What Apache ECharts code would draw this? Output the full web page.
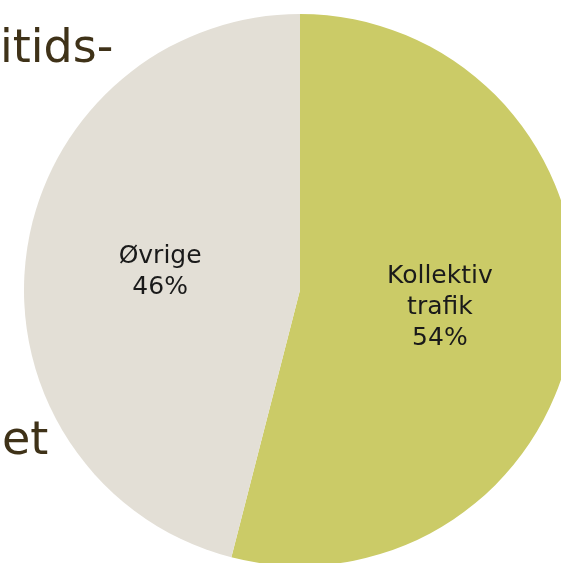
<!DOCTYPE html>
<html>
<head>
<meta charset="utf-8">
<script src="https://cdn.jsdelivr.net/npm/echarts@6/dist/echarts.min.js"></script>
<style>
  html, body { margin: 0; padding: 0; background: #fff; }
  #chart { width: 561px; height: 563px; }
</style>
</head>
<body>
<div id="chart"></div>
<script>
// data
const categories = ['Kollektiv\ntrafik', 'Øvrige'];
const shares = [54, 46];
const sliceColors = ['#cbcb67', '#e3dfd6'];

const chart = echarts.init(document.getElementById('chart'));

chart.setOption({
  animation: false,
  // cut-off slide text on the left
  graphic: [
    { type: 'text', left: 0, top: 27, style: { text: 'itids-', fill: '#3f3218', font: '46px "DejaVu Sans"' } },
    { type: 'text', left: 2, top: 419, style: { text: 'et', fill: '#3f3218', font: '46px "DejaVu Sans"' } }
  ],
  series: [{
    type: 'pie',
    center: [300, 290],
    radius: 276,
    startAngle: 90,
    clockwise: true,
    silent: true,
    label: {
      position: 'inside',
      formatter: '{b}\n{d}%',
      color: '#1a1a1a',
      fontFamily: 'DejaVu Sans',
      fontSize: 25,
      lineHeight: 31
    },
    labelLine: { show: false },
    data: categories.map((name, i) => ({
      name: name,
      value: shares[i],
      itemStyle: { color: sliceColors[i] }
    }))
  }]
});
</script>
</body>
</html>
